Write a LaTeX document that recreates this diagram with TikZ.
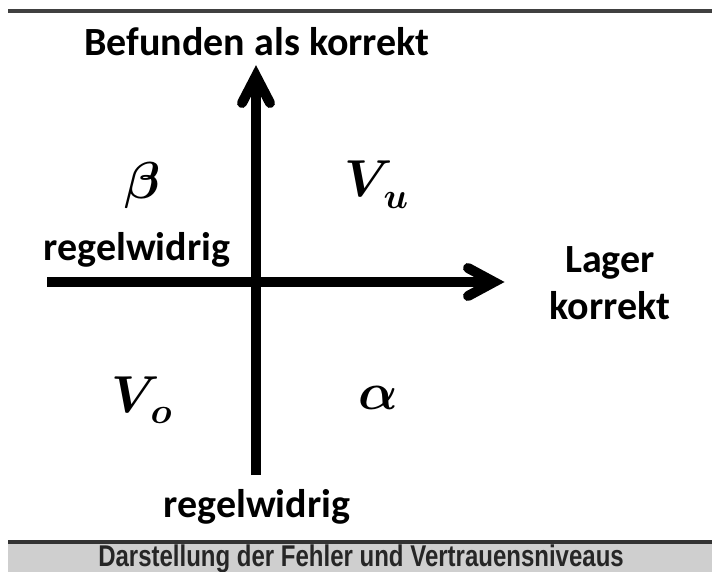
\RequirePackage{fix-cm}
\documentclass[tikz,border=0pt]{standalone}
\usepackage{fontspec}
\usepackage{amsmath,bm}
\setmainfont{Carlito}
\newfontfamily\capfont{Liberation Sans}
\newcommand\symsub[2]{$#1$\hspace{-9pt}\raisebox{-11pt}{\fontsize{36}{40}\selectfont$#2$}}
\tikzset{
  axis/.style={line width=10pt},
  barb/.style={line width=10pt, line cap=round, line join=miter},
  lbl/.style={font=\fontsize{40}{47}\selectfont\bfseries, inner sep=0pt},
  sym/.style={font=\fontsize{52}{58}\selectfont\boldmath, inner sep=0pt},
}
\begin{document}
\begin{tikzpicture}[x=1pt,y=-1pt]
\useasboundingbox (0,0) rectangle (712,572);
% frame lines
\fill[black!75] (8,9) rectangle (712,13);
\fill[black!80] (8,540) rectangle (712,544);
\fill[black!19] (8,544) rectangle (712,572);
\node[font=\fontsize{24}{28}\selectfont\capfont\bfseries, text=black!85, inner sep=0pt, yscale=1.25, anchor=base] (cap) at (361,566) {Darstellung der Fehler und Vertrauensniveaus};
% axes
\coordinate (vb) at (256,475);
\coordinate (vt) at (256,76);
\coordinate (vl) at (242,103);
\coordinate (vr) at (270,103);
\coordinate (hl) at (47,282);
\coordinate (hr) at (494,282);
\coordinate (hu) at (468,268);
\coordinate (hd) at (468,296);
\draw[axis] (vb) -- (vt);
\draw[axis] (hl) -- (hr);
\draw[barb] (vl) -- (vt) -- (vr);
\draw[barb] (hu) -- (hr) -- (hd);
% labels
\node[lbl] (top) at (257,42) {Befunden als korrekt};
\node[lbl] (left) at (137,250) {regelwidrig};
\node[lbl, align=center] (right) at (610,283) {Lager\\korrekt};
\node[lbl] (bot) at (257,507) {regelwidrig};
% symbols
\node[sym] (beta) at (143,186) {$\beta$};
\node[sym, anchor=base west] (vu) at (344,197) {\symsub{V}{u}};
\node[sym, anchor=base west] (vo) at (111,412) {\symsub{V}{o}};
\node[sym] (alpha) at (378,398) {$\alpha$};
\end{tikzpicture}
\end{document}
